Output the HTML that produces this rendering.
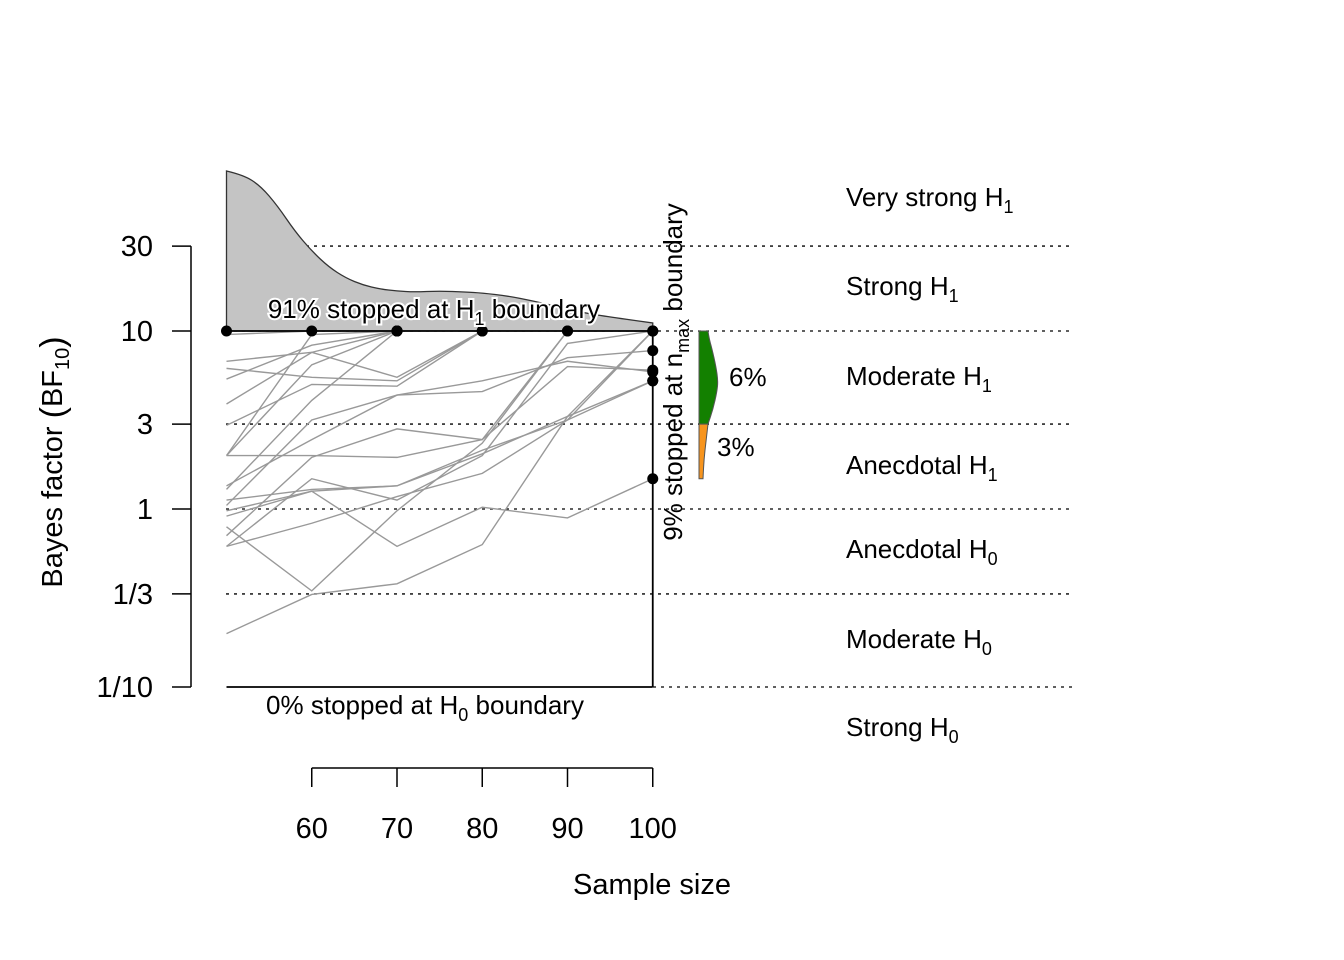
<!DOCTYPE html>
<html><head><meta charset="utf-8"><style>
body{margin:0;background:#fff}
svg{display:block;font-family:"Liberation Sans",Arial,sans-serif}
</style></head><body>
<svg id="chart" width="1344" height="960" viewBox="0 0 1344 960">
<g id="grid"></g>
<g id="density"></g>
<g id="lines"></g>
<g id="frame"></g>
<g id="dots"></g>
<g id="violin"></g>
<g id="axes"></g>
</svg>
<script>
const yTicks=[30,10,3,1,1/3,1/10];
const yTickLabels=["30","10","3","1","1/3","1/10"];
const xTicks=[60,70,80,90,100];
const sampleSizes=[50,60,70,80,90,100];
// BF10 trajectories (log10 values) at n = 50,60,...; series end where stopped
const trajectories=[
[0.83,0.88,0.74,1],
[0.79,0.74,0.72,1],
[0.73,0.92,1],
[0.59,0.88,1],
[0.47,0.70,0.69,1],
[0.30,0.81,1],
[0.30,0.98,1],
[0.11,0.61,1],
[0.30,0.30,0.29,0.39,0.80,0.78],
[0.02,0.50,0.64,0.66,0.85,0.89],
[0.13,0.39,0.64,0.72,0.83,0.77],
[-0.15,0.29,0.45,0.39,1],
[0.05,0.11,0.13,0.31,0.52,1],
[-0.04,0.10,0.13,0.33,0.50,0.72],
[-0.21,0.17,0.05,0.30,0.93,1],
[-0.01,0.10,-0.21,0.01,-0.05,0.17],
[-0.10,-0.46,-0.01,0.37,1],
[-0.21,-0.08,0.07,0.20,0.50,1],
[-0.70,-0.48,-0.42,-0.20,0.52,0.72],
[1],
[0.98,1]
];
const densityN=[50,52,54,56,58,60,62,64,66,68,70,72,75,78,80,83,86,89,92,95,100];
const densityH=[160,156,145,125,100,80,64,53,46,42,40,39,40,39,38,35,30,24,18,14,8];
const violinLogBF=[1,0.96,0.9,0.8,0.72,0.66,0.56,0.477,0.38,0.28,0.17];
const violinWidth=[9,10,13,17,19,18,14,9,7,5,4];

const NS="http://www.w3.org/2000/svg";
const X=n=>226.5+(n-50)*8.525;
const Y=v=>509-Math.log10(v)*178;
const YL=l=>509-l*178;
function mk(tag,attrs,parent,text){const e=document.createElementNS(NS,tag);for(const k in attrs)e.setAttribute(k,attrs[k]);if(text!==undefined)e.textContent=text;parent.appendChild(e);return e;}
const G=id=>document.getElementById(id);
function smooth(pts){let s='M'+pts[0][0]+','+pts[0][1];for(let i=1;i<pts.length-1;i++){const mx=(pts[i][0]+pts[i+1][0])/2,my=(pts[i][1]+pts[i+1][1])/2;s+=' Q'+pts[i][0]+','+pts[i][1]+' '+mx+','+my;}s+=' L'+pts[pts.length-1][0]+','+pts[pts.length-1][1];return s;}

yTicks.forEach((t,i)=>{
  const x1=t===1/10?653:226;
  const e=mk('line',{x1:x1,x2:1072,y1:Y(t),y2:Y(t),stroke:'#000','stroke-width':1.3,'stroke-dasharray':'3,5'},G('grid'));
  
  
});

const dpts=densityN.map((n,i)=>[X(n),Y(10)-densityH[i]]);
let d=smooth(dpts)+' L'+X(100)+','+Y(10)+' L'+X(50)+','+Y(10)+' Z';
let dp=mk('path',{d:d,fill:'#c4c4c4',stroke:'#333','stroke-width':1.3},G('density'));



const ends=[];
trajectories.forEach(tr=>{
  const pts=tr.map((l,i)=>X(sampleSizes[i])+','+YL(l)).join(' ');
  const p=mk('polyline',{points:pts,fill:'none',stroke:'#999','stroke-width':1.4},G('lines'));
  
  
  ends.push([sampleSizes[tr.length-1],tr[tr.length-1]]);
});

[[X(50),Y(10),X(100),Y(10)],[X(100),Y(10),X(100),Y(0.1)],[X(50),Y(0.1),X(100),Y(0.1)]].forEach(c=>{
  const l=mk('line',{x1:c[0],y1:c[1],x2:c[2],y2:c[3],stroke:'#000','stroke-width':1.8},G('frame'));
  
  
});

ends.forEach(e=>{
  const c=mk('circle',{cx:X(e[0]),cy:YL(e[1]),r:5.5,fill:'#000'},G('dots'));
  
  
});

const vx=699;
function vpath(a,b){const pts=[];for(let i=a;i<=b;i++)pts.push([vx+violinWidth[i],YL(violinLogBF[i])]);return 'M'+vx+','+YL(violinLogBF[a])+' L'+smooth(pts).slice(1)+' L'+vx+','+YL(violinLogBF[b])+' Z';}
let vg=mk('path',{d:vpath(0,7),fill:'#138000',stroke:'#555','stroke-width':1},G('violin'));


let vo=mk('path',{d:vpath(7,10),fill:'#f7941d',stroke:'#555','stroke-width':1},G('violin'));



const ax=G('axes');
let yl=mk('line',{x1:191,x2:191,y1:Y(30),y2:Y(0.1),stroke:'#000','stroke-width':1.5},ax);

yTicks.forEach((t,i)=>{
  const tk=mk('line',{x1:172,x2:191,y1:Y(t),y2:Y(t),stroke:'#000','stroke-width':1.5},ax);
  
  const tl=mk('text',{x:153,y:Y(t)+10,'text-anchor':'end','font-size':29},ax,yTickLabels[i]);
  
});
let xl=mk('line',{x1:X(60),x2:X(100),y1:768,y2:768,stroke:'#000','stroke-width':1.5},ax);

xTicks.forEach(t=>{
  const tk=mk('line',{x1:X(t),x2:X(t),y1:768,y2:787,stroke:'#000','stroke-width':1.5},ax);
  
  const tl=mk('text',{x:X(t),y:838,'text-anchor':'middle','font-size':29},ax,String(t));
  
});
</script>
<svg style="position:absolute;left:0;top:0" width="1344" height="960">
<g font-family="Liberation Sans, Arial, sans-serif" fill="#000">
<text x="652" y="894" text-anchor="middle" font-size="29">Sample size</text>
<text transform="translate(62,462) rotate(-90)" text-anchor="middle" font-size="29">Bayes factor <tspan font-size="34" dy="2">(</tspan><tspan dy="-2">BF</tspan><tspan font-size="20" dy="7">10</tspan><tspan font-size="34" dy="-5">)</tspan></text>
<text x="434" y="318" text-anchor="middle" font-size="26" stroke="#fff" stroke-width="4" paint-order="stroke">91% stopped at H<tspan font-size="18" dy="7">1</tspan><tspan dy="-7"> boundary</tspan></text>
<text x="425" y="714" text-anchor="middle" font-size="26">0% stopped at H<tspan font-size="18" dy="7">0</tspan><tspan dy="-7"> boundary</tspan></text>
<text transform="translate(682,372) rotate(-90)" text-anchor="middle" font-size="26">9% stopped at n<tspan font-size="18" dy="7">max</tspan><tspan dy="-7"> boundary</tspan></text>
<text x="729" y="386" font-size="26">6%</text>
<text x="717" y="456" font-size="26">3%</text>
<g font-size="26">
<text x="846" y="206">Very strong H<tspan font-size="18" dy="7">1</tspan></text>
<text x="846" y="295">Strong H<tspan font-size="18" dy="7">1</tspan></text>
<text x="846" y="385">Moderate H<tspan font-size="18" dy="7">1</tspan></text>
<text x="846" y="474">Anecdotal H<tspan font-size="18" dy="7">1</tspan></text>
<text x="846" y="558">Anecdotal H<tspan font-size="18" dy="7">0</tspan></text>
<text x="846" y="648">Moderate H<tspan font-size="18" dy="7">0</tspan></text>
<text x="846" y="736">Strong H<tspan font-size="18" dy="7">0</tspan></text>
</g>
</g>
</svg>
</body></html>
